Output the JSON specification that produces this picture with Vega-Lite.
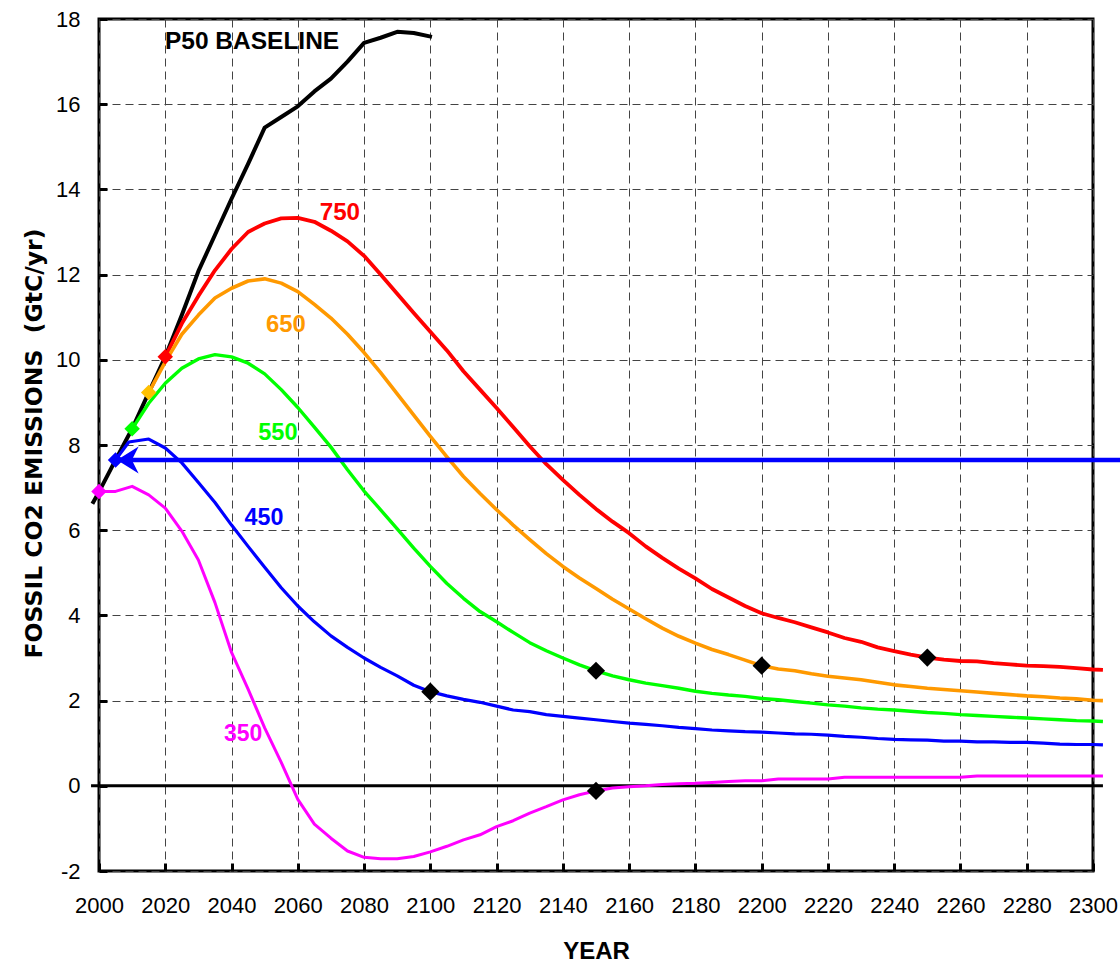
{
  "$schema": "https://vega.github.io/schema/vega-lite/v6.json",
  "autosize": "none",
  "width": 994,
  "height": 852,
  "padding": {"left": 99, "top": 19, "right": 27, "bottom": 91},
  "background": "white",
  "config": {
    "view": {"stroke": "#000000", "strokeWidth": 3},
    "font": "Liberation Sans"
  },
  "datasets": {
    "curves": [
      {"s": "P50", "year": 1998, "v": 6.62}, {"s": "P50", "year": 2000, "v": 6.9}, {"s": "P50", "year": 2005, "v": 7.65}, {"s": "P50", "year": 2010, "v": 8.38}, {"s": "P50", "year": 2015, "v": 9.23}, {"s": "P50", "year": 2020, "v": 10.07}, {"s": "P50", "year": 2025, "v": 11.05}, {"s": "P50", "year": 2030, "v": 12.08}, {"s": "P50", "year": 2035, "v": 12.93}, {"s": "P50", "year": 2040, "v": 13.78}, {"s": "P50", "year": 2045, "v": 14.6}, {"s": "P50", "year": 2050, "v": 15.45}, {"s": "P50", "year": 2055, "v": 15.7}, {"s": "P50", "year": 2060, "v": 15.95}, {"s": "P50", "year": 2065, "v": 16.3}, {"s": "P50", "year": 2070, "v": 16.6}, {"s": "P50", "year": 2075, "v": 17.0}, {"s": "P50", "year": 2080, "v": 17.44}, {"s": "P50", "year": 2085, "v": 17.56}, {"s": "P50", "year": 2090, "v": 17.7}, {"s": "P50", "year": 2095, "v": 17.67}, {"s": "P50", "year": 2100.5, "v": 17.58},

      {"s": "750", "year": 2020, "v": 10.07}, {"s": "750", "year": 2025, "v": 10.85}, {"s": "750", "year": 2030, "v": 11.5}, {"s": "750", "year": 2035, "v": 12.1}, {"s": "750", "year": 2040, "v": 12.6}, {"s": "750", "year": 2045, "v": 13.0}, {"s": "750", "year": 2050, "v": 13.2}, {"s": "750", "year": 2055, "v": 13.32}, {"s": "750", "year": 2060, "v": 13.33}, {"s": "750", "year": 2065, "v": 13.24}, {"s": "750", "year": 2070, "v": 13.03}, {"s": "750", "year": 2075, "v": 12.78}, {"s": "750", "year": 2080, "v": 12.44}, {"s": "750", "year": 2085, "v": 12.0}, {"s": "750", "year": 2090, "v": 11.55}, {"s": "750", "year": 2095, "v": 11.1}, {"s": "750", "year": 2100, "v": 10.66}, {"s": "750", "year": 2105, "v": 10.22}, {"s": "750", "year": 2110, "v": 9.73}, {"s": "750", "year": 2115, "v": 9.3}, {"s": "750", "year": 2120, "v": 8.87}, {"s": "750", "year": 2125, "v": 8.42}, {"s": "750", "year": 2130, "v": 7.97}, {"s": "750", "year": 2135, "v": 7.55}, {"s": "750", "year": 2140, "v": 7.18}, {"s": "750", "year": 2145, "v": 6.83}, {"s": "750", "year": 2150, "v": 6.5}, {"s": "750", "year": 2155, "v": 6.2}, {"s": "750", "year": 2160, "v": 5.93}, {"s": "750", "year": 2165, "v": 5.62}, {"s": "750", "year": 2170, "v": 5.35}, {"s": "750", "year": 2175, "v": 5.1}, {"s": "750", "year": 2180, "v": 4.87}, {"s": "750", "year": 2185, "v": 4.62}, {"s": "750", "year": 2190, "v": 4.42}, {"s": "750", "year": 2195, "v": 4.22}, {"s": "750", "year": 2200, "v": 4.05}, {"s": "750", "year": 2205, "v": 3.94}, {"s": "750", "year": 2210, "v": 3.84}, {"s": "750", "year": 2215, "v": 3.72}, {"s": "750", "year": 2220, "v": 3.6}, {"s": "750", "year": 2225, "v": 3.47}, {"s": "750", "year": 2230, "v": 3.38}, {"s": "750", "year": 2235, "v": 3.25}, {"s": "750", "year": 2240, "v": 3.16}, {"s": "750", "year": 2245, "v": 3.08}, {"s": "750", "year": 2250, "v": 3.01}, {"s": "750", "year": 2255, "v": 2.96}, {"s": "750", "year": 2260, "v": 2.93}, {"s": "750", "year": 2265, "v": 2.92}, {"s": "750", "year": 2270, "v": 2.88}, {"s": "750", "year": 2275, "v": 2.85}, {"s": "750", "year": 2280, "v": 2.82}, {"s": "750", "year": 2285, "v": 2.81}, {"s": "750", "year": 2290, "v": 2.79}, {"s": "750", "year": 2295, "v": 2.76}, {"s": "750", "year": 2300, "v": 2.73}, {"s": "750", "year": 2303, "v": 2.72},

      {"s": "650", "year": 2015, "v": 9.23}, {"s": "650", "year": 2020, "v": 9.95}, {"s": "650", "year": 2025, "v": 10.6}, {"s": "650", "year": 2030, "v": 11.05}, {"s": "650", "year": 2035, "v": 11.45}, {"s": "650", "year": 2040, "v": 11.68}, {"s": "650", "year": 2045, "v": 11.85}, {"s": "650", "year": 2050, "v": 11.9}, {"s": "650", "year": 2055, "v": 11.8}, {"s": "650", "year": 2060, "v": 11.6}, {"s": "650", "year": 2065, "v": 11.3}, {"s": "650", "year": 2070, "v": 10.98}, {"s": "650", "year": 2075, "v": 10.6}, {"s": "650", "year": 2080, "v": 10.17}, {"s": "650", "year": 2085, "v": 9.7}, {"s": "650", "year": 2090, "v": 9.2}, {"s": "650", "year": 2095, "v": 8.7}, {"s": "650", "year": 2100, "v": 8.2}, {"s": "650", "year": 2105, "v": 7.72}, {"s": "650", "year": 2110, "v": 7.26}, {"s": "650", "year": 2115, "v": 6.86}, {"s": "650", "year": 2120, "v": 6.48}, {"s": "650", "year": 2125, "v": 6.12}, {"s": "650", "year": 2130, "v": 5.78}, {"s": "650", "year": 2135, "v": 5.45}, {"s": "650", "year": 2140, "v": 5.15}, {"s": "650", "year": 2145, "v": 4.88}, {"s": "650", "year": 2150, "v": 4.63}, {"s": "650", "year": 2155, "v": 4.38}, {"s": "650", "year": 2160, "v": 4.15}, {"s": "650", "year": 2165, "v": 3.92}, {"s": "650", "year": 2170, "v": 3.7}, {"s": "650", "year": 2175, "v": 3.51}, {"s": "650", "year": 2180, "v": 3.35}, {"s": "650", "year": 2185, "v": 3.2}, {"s": "650", "year": 2190, "v": 3.08}, {"s": "650", "year": 2195, "v": 2.95}, {"s": "650", "year": 2200, "v": 2.82}, {"s": "650", "year": 2205, "v": 2.74}, {"s": "650", "year": 2210, "v": 2.7}, {"s": "650", "year": 2215, "v": 2.63}, {"s": "650", "year": 2220, "v": 2.57}, {"s": "650", "year": 2225, "v": 2.53}, {"s": "650", "year": 2230, "v": 2.49}, {"s": "650", "year": 2235, "v": 2.43}, {"s": "650", "year": 2240, "v": 2.37}, {"s": "650", "year": 2245, "v": 2.33}, {"s": "650", "year": 2250, "v": 2.29}, {"s": "650", "year": 2255, "v": 2.26}, {"s": "650", "year": 2260, "v": 2.23}, {"s": "650", "year": 2265, "v": 2.2}, {"s": "650", "year": 2270, "v": 2.17}, {"s": "650", "year": 2275, "v": 2.14}, {"s": "650", "year": 2280, "v": 2.11}, {"s": "650", "year": 2285, "v": 2.09}, {"s": "650", "year": 2290, "v": 2.06}, {"s": "650", "year": 2295, "v": 2.04}, {"s": "650", "year": 2300, "v": 2.01}, {"s": "650", "year": 2303, "v": 2.0},

      {"s": "550", "year": 2010, "v": 8.38}, {"s": "550", "year": 2015, "v": 8.98}, {"s": "550", "year": 2020, "v": 9.45}, {"s": "550", "year": 2025, "v": 9.8}, {"s": "550", "year": 2030, "v": 10.02}, {"s": "550", "year": 2035, "v": 10.12}, {"s": "550", "year": 2040, "v": 10.07}, {"s": "550", "year": 2045, "v": 9.92}, {"s": "550", "year": 2050, "v": 9.67}, {"s": "550", "year": 2055, "v": 9.3}, {"s": "550", "year": 2060, "v": 8.88}, {"s": "550", "year": 2065, "v": 8.42}, {"s": "550", "year": 2070, "v": 7.95}, {"s": "550", "year": 2075, "v": 7.42}, {"s": "550", "year": 2080, "v": 6.92}, {"s": "550", "year": 2085, "v": 6.48}, {"s": "550", "year": 2090, "v": 6.03}, {"s": "550", "year": 2095, "v": 5.58}, {"s": "550", "year": 2100, "v": 5.15}, {"s": "550", "year": 2105, "v": 4.75}, {"s": "550", "year": 2110, "v": 4.4}, {"s": "550", "year": 2115, "v": 4.09}, {"s": "550", "year": 2120, "v": 3.85}, {"s": "550", "year": 2125, "v": 3.6}, {"s": "550", "year": 2130, "v": 3.36}, {"s": "550", "year": 2135, "v": 3.17}, {"s": "550", "year": 2140, "v": 3.0}, {"s": "550", "year": 2145, "v": 2.84}, {"s": "550", "year": 2150, "v": 2.7}, {"s": "550", "year": 2155, "v": 2.58}, {"s": "550", "year": 2160, "v": 2.49}, {"s": "550", "year": 2165, "v": 2.41}, {"s": "550", "year": 2170, "v": 2.35}, {"s": "550", "year": 2175, "v": 2.29}, {"s": "550", "year": 2180, "v": 2.22}, {"s": "550", "year": 2185, "v": 2.17}, {"s": "550", "year": 2190, "v": 2.13}, {"s": "550", "year": 2195, "v": 2.1}, {"s": "550", "year": 2200, "v": 2.05}, {"s": "550", "year": 2205, "v": 2.02}, {"s": "550", "year": 2210, "v": 1.98}, {"s": "550", "year": 2215, "v": 1.94}, {"s": "550", "year": 2220, "v": 1.9}, {"s": "550", "year": 2225, "v": 1.87}, {"s": "550", "year": 2230, "v": 1.83}, {"s": "550", "year": 2235, "v": 1.8}, {"s": "550", "year": 2240, "v": 1.78}, {"s": "550", "year": 2245, "v": 1.75}, {"s": "550", "year": 2250, "v": 1.72}, {"s": "550", "year": 2255, "v": 1.7}, {"s": "550", "year": 2260, "v": 1.67}, {"s": "550", "year": 2265, "v": 1.65}, {"s": "550", "year": 2270, "v": 1.63}, {"s": "550", "year": 2275, "v": 1.61}, {"s": "550", "year": 2280, "v": 1.59}, {"s": "550", "year": 2285, "v": 1.57}, {"s": "550", "year": 2290, "v": 1.55}, {"s": "550", "year": 2295, "v": 1.53}, {"s": "550", "year": 2300, "v": 1.52}, {"s": "550", "year": 2303, "v": 1.51},

      {"s": "450", "year": 2005, "v": 7.65}, {"s": "450", "year": 2009, "v": 8.07}, {"s": "450", "year": 2015, "v": 8.14}, {"s": "450", "year": 2020, "v": 7.93}, {"s": "450", "year": 2025, "v": 7.58}, {"s": "450", "year": 2030, "v": 7.12}, {"s": "450", "year": 2035, "v": 6.65}, {"s": "450", "year": 2040, "v": 6.12}, {"s": "450", "year": 2045, "v": 5.62}, {"s": "450", "year": 2050, "v": 5.13}, {"s": "450", "year": 2055, "v": 4.65}, {"s": "450", "year": 2060, "v": 4.22}, {"s": "450", "year": 2065, "v": 3.85}, {"s": "450", "year": 2070, "v": 3.52}, {"s": "450", "year": 2075, "v": 3.25}, {"s": "450", "year": 2080, "v": 3.0}, {"s": "450", "year": 2085, "v": 2.78}, {"s": "450", "year": 2090, "v": 2.58}, {"s": "450", "year": 2095, "v": 2.36}, {"s": "450", "year": 2100, "v": 2.21}, {"s": "450", "year": 2105, "v": 2.11}, {"s": "450", "year": 2110, "v": 2.03}, {"s": "450", "year": 2115, "v": 1.96}, {"s": "450", "year": 2120, "v": 1.87}, {"s": "450", "year": 2125, "v": 1.78}, {"s": "450", "year": 2130, "v": 1.74}, {"s": "450", "year": 2135, "v": 1.67}, {"s": "450", "year": 2140, "v": 1.63}, {"s": "450", "year": 2145, "v": 1.59}, {"s": "450", "year": 2150, "v": 1.55}, {"s": "450", "year": 2155, "v": 1.51}, {"s": "450", "year": 2160, "v": 1.47}, {"s": "450", "year": 2165, "v": 1.44}, {"s": "450", "year": 2170, "v": 1.41}, {"s": "450", "year": 2175, "v": 1.37}, {"s": "450", "year": 2180, "v": 1.34}, {"s": "450", "year": 2185, "v": 1.31}, {"s": "450", "year": 2190, "v": 1.29}, {"s": "450", "year": 2195, "v": 1.27}, {"s": "450", "year": 2200, "v": 1.26}, {"s": "450", "year": 2205, "v": 1.24}, {"s": "450", "year": 2210, "v": 1.22}, {"s": "450", "year": 2215, "v": 1.21}, {"s": "450", "year": 2220, "v": 1.19}, {"s": "450", "year": 2225, "v": 1.16}, {"s": "450", "year": 2230, "v": 1.14}, {"s": "450", "year": 2235, "v": 1.11}, {"s": "450", "year": 2240, "v": 1.09}, {"s": "450", "year": 2245, "v": 1.08}, {"s": "450", "year": 2250, "v": 1.07}, {"s": "450", "year": 2255, "v": 1.05}, {"s": "450", "year": 2260, "v": 1.05}, {"s": "450", "year": 2265, "v": 1.03}, {"s": "450", "year": 2270, "v": 1.03}, {"s": "450", "year": 2275, "v": 1.02}, {"s": "450", "year": 2280, "v": 1.02}, {"s": "450", "year": 2285, "v": 1.0}, {"s": "450", "year": 2290, "v": 0.98}, {"s": "450", "year": 2295, "v": 0.97}, {"s": "450", "year": 2300, "v": 0.97}, {"s": "450", "year": 2303, "v": 0.96},

      {"s": "350", "year": 2000, "v": 6.91}, {"s": "350", "year": 2005, "v": 6.91}, {"s": "350", "year": 2010, "v": 7.03}, {"s": "350", "year": 2015, "v": 6.83}, {"s": "350", "year": 2020, "v": 6.52}, {"s": "350", "year": 2025, "v": 5.98}, {"s": "350", "year": 2030, "v": 5.3}, {"s": "350", "year": 2035, "v": 4.3}, {"s": "350", "year": 2040, "v": 3.13}, {"s": "350", "year": 2045, "v": 2.27}, {"s": "350", "year": 2050, "v": 1.36}, {"s": "350", "year": 2055, "v": 0.55}, {"s": "350", "year": 2060, "v": -0.32}, {"s": "350", "year": 2065, "v": -0.9}, {"s": "350", "year": 2070, "v": -1.23}, {"s": "350", "year": 2075, "v": -1.53}, {"s": "350", "year": 2080, "v": -1.68}, {"s": "350", "year": 2085, "v": -1.71}, {"s": "350", "year": 2090, "v": -1.71}, {"s": "350", "year": 2095, "v": -1.66}, {"s": "350", "year": 2100, "v": -1.55}, {"s": "350", "year": 2105, "v": -1.42}, {"s": "350", "year": 2110, "v": -1.27}, {"s": "350", "year": 2115, "v": -1.15}, {"s": "350", "year": 2120, "v": -0.96}, {"s": "350", "year": 2125, "v": -0.82}, {"s": "350", "year": 2130, "v": -0.64}, {"s": "350", "year": 2135, "v": -0.49}, {"s": "350", "year": 2140, "v": -0.33}, {"s": "350", "year": 2145, "v": -0.21}, {"s": "350", "year": 2150, "v": -0.12}, {"s": "350", "year": 2155, "v": -0.05}, {"s": "350", "year": 2160, "v": -0.02}, {"s": "350", "year": 2165, "v": 0.0}, {"s": "350", "year": 2170, "v": 0.03}, {"s": "350", "year": 2175, "v": 0.05}, {"s": "350", "year": 2180, "v": 0.06}, {"s": "350", "year": 2185, "v": 0.08}, {"s": "350", "year": 2190, "v": 0.1}, {"s": "350", "year": 2195, "v": 0.12}, {"s": "350", "year": 2200, "v": 0.12}, {"s": "350", "year": 2205, "v": 0.16}, {"s": "350", "year": 2210, "v": 0.16}, {"s": "350", "year": 2215, "v": 0.16}, {"s": "350", "year": 2220, "v": 0.16}, {"s": "350", "year": 2225, "v": 0.2}, {"s": "350", "year": 2230, "v": 0.2}, {"s": "350", "year": 2240, "v": 0.2}, {"s": "350", "year": 2250, "v": 0.2}, {"s": "350", "year": 2260, "v": 0.2}, {"s": "350", "year": 2265, "v": 0.23}, {"s": "350", "year": 2280, "v": 0.23}, {"s": "350", "year": 2303, "v": 0.23}
    ],
    "rules": [
      {"name": "zero", "x1": 1997.6, "x2": 2303, "v": 0},
      {"name": "target", "x1": 2005, "x2": 2308.6, "v": 7.65}
    ],
    "starts": [
      {"s": "350", "year": 2000, "v": 6.91},
      {"s": "450", "year": 2005, "v": 7.65},
      {"s": "550", "year": 2010, "v": 8.38},
      {"s": "650", "year": 2015, "v": 9.23},
      {"s": "750", "year": 2020, "v": 10.07}
    ],
    "ends": [
      {"s": "450", "year": 2100, "v": 2.21},
      {"s": "550", "year": 2150, "v": 2.7},
      {"s": "350", "year": 2150, "v": -0.12},
      {"s": "650", "year": 2200, "v": 2.82},
      {"s": "750", "year": 2250, "v": 3.01}
    ],
    "arrow": [{"year": 2008.7, "v": 7.65}],
    "labels": [
      {"s": "P50", "label": "P50 BASELINE", "year": 2046.2, "v": 17.46},
      {"s": "750", "label": "750", "year": 2072.7, "v": 13.45},
      {"s": "650", "label": "650", "year": 2056.4, "v": 10.82},
      {"s": "550", "label": "550", "year": 2054.0, "v": 8.29},
      {"s": "450", "label": "450", "year": 2049.8, "v": 6.29},
      {"s": "350", "label": "350", "year": 2043.5, "v": 1.22}
    ]
  },
  "resolve": {"scale": {"color": "independent", "size": "independent", "strokeWidth": "independent"}},
  "layer": [
    {
      "data": {"name": "rules"},
      "transform": [{"filter": "datum.name === 'zero'"}],
      "mark": {"type": "rule", "color": "#000000", "strokeWidth": 3},
      "encoding": {
        "x": {"field": "x1", "type": "quantitative", "scale": {"domain": [2000, 2300], "nice": false, "zero": false},
          "axis": {
            "values": [2000, 2020, 2040, 2060, 2080, 2100, 2120, 2140, 2160, 2180, 2200, 2220, 2240, 2260, 2280, 2300],
            "format": "d", "labelFontSize": 22, "labelFont": "Liberation Sans", "labelColor": "#000000",
            "labelFlush": false, "labelOverlap": false,
            "tickSize": -8, "tickWidth": 3, "tickColor": "#000000", "labelPadding": 32,
            "domain": false, "grid": true, "gridDash": [8, 5], "gridColor": "#444444", "gridWidth": 1,
            "title": "YEAR", "titleFont": "Liberation Sans", "titleFontSize": 24, "titleFontWeight": "bold", "titleColor": "#000000",
            "titleBaseline": "alphabetic", "titleY": 87, "titleX": 497
          }},
        "x2": {"field": "x2"},
        "y": {"field": "v", "type": "quantitative", "scale": {"domain": [-2, 18], "nice": false, "zero": false},
          "axis": {
            "values": [-2, 0, 2, 4, 6, 8, 10, 12, 14, 16, 18],
            "labelExpr": "'' + datum.value",
            "labelFontSize": 22, "labelFont": "Liberation Sans", "labelColor": "#000000",
            "labelFlush": false, "labelOverlap": false,
            "tickSize": -8, "tickWidth": 3, "tickColor": "#000000", "labelPadding": 27,
            "domain": false, "grid": true, "gridDash": [8, 5], "gridColor": "#444444", "gridWidth": 1,
            "title": "FOSSIL CO2 EMISSIONS\u00a0 (GtC/yr)", "titleFont": "DejaVu Sans", "titleFontSize": 23.5, "titleFontWeight": "bold", "titleColor": "#000000",
            "titleBaseline": "alphabetic", "titleAngle": 270, "titleX": -58, "titleY": 424, "titleAlign": "center"
          }}
      }
    },
    {
      "data": {"name": "curves"},
      "mark": {"type": "line", "strokeJoin": "round", "strokeCap": "butt"},
      "encoding": {
        "x": {"field": "year", "type": "quantitative"},
        "y": {"field": "v", "type": "quantitative"},
        "color": {"field": "s", "type": "nominal", "legend": null,
          "scale": {"domain": ["P50", "750", "650", "550", "450", "350"], "range": ["#000000", "#ff0000", "#ff9900", "#00ff00", "#0000ff", "#ff00ff"]}},
        "strokeWidth": {"field": "s", "type": "nominal", "legend": null,
          "scale": {"domain": ["P50", "750", "650", "550", "450", "350"], "range": [4, 3, 3, 3, 3, 3]}}
      }
    },
    {
      "data": {"name": "rules"},
      "transform": [{"filter": "datum.name === 'target'"}],
      "mark": {"type": "rule", "color": "#0000ff", "strokeWidth": 4.5},
      "encoding": {
        "x": {"field": "x1", "type": "quantitative"},
        "x2": {"field": "x2"},
        "y": {"field": "v", "type": "quantitative"}
      }
    },
    {
      "data": {"name": "arrow"},
      "mark": {"type": "point", "filled": true, "opacity": 1, "color": "#0000ff", "size": 729,
        "shape": "M-0.8,0 L0.8,-1 L0.3,0 L0.8,1 Z"},
      "encoding": {
        "x": {"field": "year", "type": "quantitative"},
        "y": {"field": "v", "type": "quantitative"}
      }
    },
    {
      "data": {"name": "starts"},
      "mark": {"type": "point", "shape": "diamond", "filled": true, "opacity": 1, "size": 240},
      "encoding": {
        "x": {"field": "year", "type": "quantitative"},
        "y": {"field": "v", "type": "quantitative"},
        "color": {"field": "s", "type": "nominal", "legend": null,
          "scale": {"domain": ["750", "650", "550", "450", "350"], "range": ["#ff0000", "#ffc000", "#00ff00", "#0000ff", "#ff00ff"]}}
      }
    },
    {
      "data": {"name": "ends"},
      "mark": {"type": "point", "shape": "diamond", "filled": true, "opacity": 1, "size": 330, "color": "#000000"},
      "encoding": {
        "x": {"field": "year", "type": "quantitative"},
        "y": {"field": "v", "type": "quantitative"}
      }
    },
    {
      "data": {"name": "labels"},
      "mark": {"type": "text", "font": "Liberation Sans", "fontWeight": "bold", "fontSize": 23, "align": "center", "baseline": "middle"},
      "encoding": {
        "x": {"field": "year", "type": "quantitative"},
        "y": {"field": "v", "type": "quantitative"},
        "text": {"field": "label"},
        "size": {"field": "s", "type": "nominal", "legend": null,
          "scale": {"domain": ["P50", "750", "650", "550", "450", "350"], "range": [24.5, 23, 23, 23, 23, 23]}},
        "color": {"field": "s", "type": "nominal", "legend": null,
          "scale": {"domain": ["P50", "750", "650", "550", "450", "350"], "range": ["#000000", "#ff0000", "#ff9900", "#00ff00", "#0000ff", "#ff00ff"]}}
      }
    }
  ]
}
